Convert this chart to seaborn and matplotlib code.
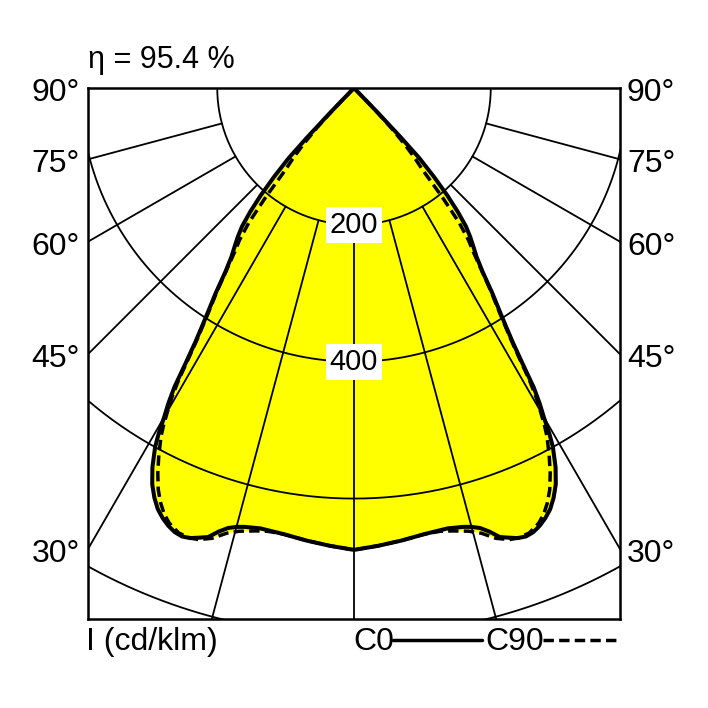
import numpy as np
import pandas as pd
import seaborn as sns
import matplotlib.pyplot as plt
from matplotlib.lines import Line2D

# ==========================================
# DATA (cd/klm)
# ==========================================

# C0 plane (solid), gamma in degrees from nadir
gamma_c0 = [0, 3, 6, 9, 12, 14, 15, 16, 17, 18, 19, 20, 21, 22, 23, 24, 25, 26,
            27, 28, 29, 29.5, 30, 30.5, 31, 31.5, 32, 32.5, 33, 34, 35, 36, 37,
            38, 39, 40, 41, 42, 43, 43.5, 44, 45, 90]
i_c0 = [675, 670, 665, 660, 658, 661, 664, 669, 678, 690, 695, 700, 702, 700,
        695, 688, 679, 666, 650, 628, 600, 580, 555, 535, 510, 470, 438, 415,
        395, 362, 328, 305, 290, 276, 260, 236, 208, 175, 140, 100, 50, 0, 0]

# C90 plane (dashed)
gamma_c90 = [0, 3, 6, 9, 11, 12.5, 14.5, 16, 17.5, 19, 20, 21.5, 23, 24, 25, 26,
             27, 28, 29, 29.5, 30, 30.5, 31, 31.5, 32, 32.5, 33, 34, 35, 36, 37,
             38, 39, 40, 41, 42, 43, 44, 45, 90]
i_c90 = [675, 670, 665, 660, 660, 663, 669, 677, 690, 698, 700, 699, 691, 682,
         669, 653, 632, 608, 582, 565, 545, 525, 498, 462, 432, 410, 390, 358,
         325, 298, 278, 250, 205, 155, 135, 110, 80, 40, 0, 0]

circle_values = [200, 400, 600, 800]
circle_labels = [200, 400]
radial_angles = [0, 15, 30, 45, 60, 75]
side_angles = [90, 75, 60, 45, 30]

eta_text = 'η = 95.4 %'
unit_text = 'I (cd/klm)'
legend_names = ['C0', 'C90']

# ==========================================
# HELPERS
# ==========================================

def mirror(gamma, intensity):
    g = np.array(gamma, dtype=float)
    v = np.array(intensity, dtype=float)
    g_full = np.concatenate([-g[::-1], g[1:]])
    v_full = np.concatenate([v[::-1], v[1:]])
    rad = np.radians(g_full)
    return pd.DataFrame({'x': v_full * np.sin(rad), 'y': -v_full * np.cos(rad)})

c0 = mirror(gamma_c0, i_c0)
c90 = mirror(gamma_c90, i_c90)

XMAX = 389
YMIN = -776
FS = 22
DASH = (0, (3, 1.5))

sns.set_style('white')
plt.rcParams['font.family'] = ['Liberation Sans Narrow', 'Liberation Sans', 'DejaVu Sans']
plt.rcParams['text.color'] = 'black'

fig = plt.figure(figsize=(7.08, 7.08), dpi=100)
ax = fig.add_axes([88 / 708, (708 - 619) / 708, 532 / 708, 531 / 708])

# yellow fill
ax.fill(c90['x'], c90['y'], color='#ffff00', lw=0, zorder=1)
ax.fill(c0['x'], c0['y'], color='#ffff00', lw=0, zorder=1)

# polar grid: circles and radial lines
t = np.radians(np.linspace(-90, 90, 361))
for r in circle_values:
    ax.plot(r * np.sin(t), -r * np.cos(t), color='black', lw=1.3, zorder=2)
for a in radial_angles:
    for s in ([1] if a == 0 else [-1, 1]):
        ar = np.radians(s * a)
        ax.plot([200 * np.sin(ar), 2000 * np.sin(ar)],
                [-200 * np.cos(ar), -2000 * np.cos(ar)],
                color='black', lw=1.3, zorder=2)

for r in circle_labels:
    ax.text(0, -r, str(r), ha='center', va='center', fontsize=FS - 1, zorder=3,
            bbox=dict(facecolor='white', edgecolor='none', pad=3))

# curves
sns.lineplot(data=c0, x='x', y='y', sort=False, estimator=None, ax=ax,
             color='black', lw=2.9, zorder=4)
sns.lineplot(data=c90, x='x', y='y', sort=False, estimator=None, ax=ax,
             color='black', lw=2.5, ls=DASH, zorder=4)

ax.set_xlim(-XMAX, XMAX)
ax.set_ylim(YMIN, 0)
ax.set_xticks([])
ax.set_yticks([])
ax.set_xlabel('')
ax.set_ylabel('')
for sp in ax.spines.values():
    sp.set_visible(True)
    sp.set_color('black')
    sp.set_linewidth(1.8)
    sp.set_zorder(5)

# side angle labels
px = 532 / (2 * XMAX)
for a in side_angles:
    yv = 0 if a == 90 else -XMAX / np.tan(np.radians(a))
    yv -= 5 / px
    ax.text(-XMAX - 8 / px, yv, f'{a}°', ha='right', va='center', fontsize=FS + 1,
            clip_on=False)
    ax.text(XMAX + 7 / px, yv, f'{a}°', ha='left', va='center', fontsize=FS + 1,
            clip_on=False)

# texts around the box
fig.text(88 / 708, 1 - 60 / 708, eta_text, ha='left', va='center', fontsize=FS)
fig.text(86 / 708, 1 - 642 / 708, unit_text, ha='left', va='center', fontsize=FS + 1)
fig.text(353 / 708, 1 - 642 / 708, legend_names[0], ha='left', va='center', fontsize=FS + 1)
fig.text(485 / 708, 1 - 642 / 708, legend_names[1], ha='left', va='center', fontsize=FS + 1)
fig.add_artist(Line2D([393 / 708, 482 / 708], [1 - 640 / 708] * 2, color='black', lw=2.5))
fig.add_artist(Line2D([543 / 708, 616 / 708], [1 - 640 / 708] * 2, color='black', lw=2.5,
                      ls=DASH))

fig.savefig('out.png', dpi=100)
